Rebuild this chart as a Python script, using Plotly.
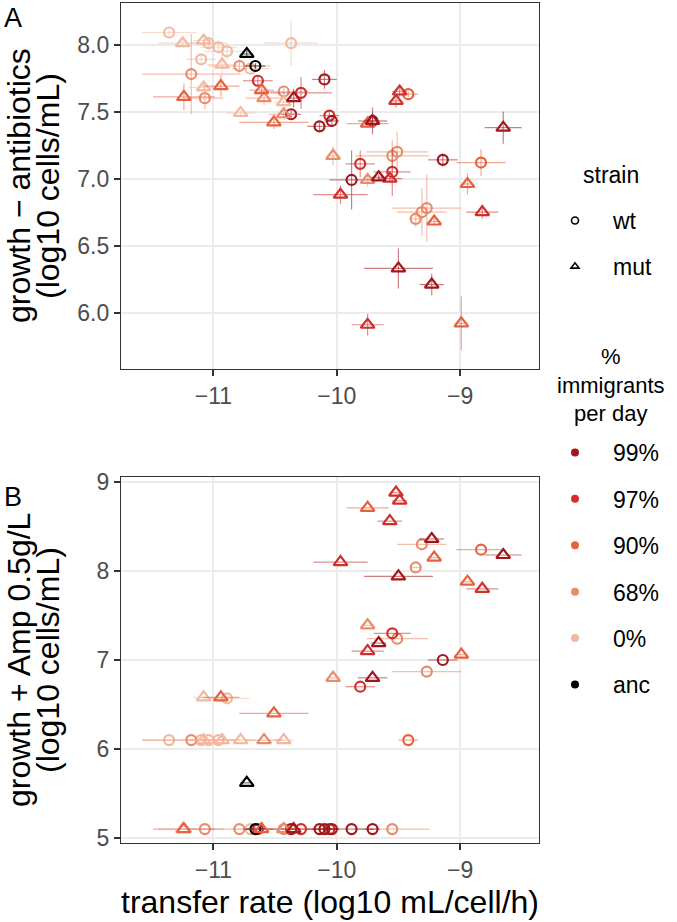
import plotly.graph_objects as go
from plotly.subplots import make_subplots

# ---------------- data ----------------
group_levels = ["99%", "97%", "90%", "68%", "0%", "anc"]
group_colors = ["#a3161d", "#d02f2c", "#e6623f", "#e98c6c", "#f2b9a1", "#000000"]

# wild type strains
wt_group = ["0%", "68%", "0%", "0%", "68%", "0%", "0%", "68%", "0%", "anc",
            "97%", "68%", "0%", "99%", "97%", "99%", "99%", "97%", "99%", "99%",
            "97%", "99%", "97%", "68%", "68%", "90%", "99%", "90%", "68%", "68%", "68%"]
wt_x = [-11.36, -11.18, -11.10, -11.04, -11.07, -10.96, -10.89, -10.79, -10.70, -10.66,
        -10.64, -10.43, -10.37, -10.37, -10.29, -10.14, -10.10, -10.06, -10.04, -9.88,
        -9.81, -9.71, -9.55, -9.55, -9.51, -9.42, -9.14, -8.83, -9.27, -9.31, -9.36]
wt_x_err = [0.22, 0.40, 0.12, 0.15, 0.15, 0.15, 0.18, 0.25, 0.15, 0.08,
            0.12, 0.20, 0.22, 0.08, 0.25, 0.10, 0.10, 0.08, 0.06, 0.18,
            0.12, 0.06, 0.15, 0.30, 0.25, 0.08, 0.12, 0.20, 0.28, 0.20, 0.05]
wt_growth_noab = [8.09, 7.78, 7.89, 8.01, 7.60, 7.98, 7.95, 7.84, 7.82, 7.84,
                  7.73, 7.65, 8.01, 7.48, 7.64, 7.39, 7.74, 7.47, 7.43, 6.99,
                  7.11, 7.43, 7.05, 7.17, 7.20, 7.63, 7.14, 7.12, 6.78, 6.75, 6.70]
wt_growth_noab_err = [0.02, 0.30, 0.03, 0.05, 0.08, 0.05, 0.06, 0.05, 0.03, 0.02,
                      0.04, 0.03, 0.17, 0.03, 0.12, 0.03, 0.07, 0.03, 0.03, 0.22,
                      0.10, 0.03, 0.18, 0.12, 0.15, 0.02, 0.05, 0.10, 0.25, 0.18, 0.06]
wt_growth_amp = [6.10, 6.10, 6.10, 6.10, 5.10, 6.10, 6.57, 5.10, 5.10, 5.10,
                 5.10, 5.10, 5.10, 5.10, 5.10, 5.10, 5.10, 5.10, 5.10, 5.10,
                 6.70, 5.10, 7.30, 5.10, 7.24, 6.10, 7.00, 8.24, 6.87, 8.30, 8.04]

# mutant strains
mut_group = ["0%", "0%", "0%", "0%", "90%", "90%", "anc", "0%", "90%", "68%",
             "0%", "68%", "99%", "90%", "68%", "97%", "99%", "90%", "97%", "97%",
             "97%", "68%", "99%", "99%", "90%", "90%", "97%", "99%", "99%", "97%", "90%"]
mut_x = [-11.25, -11.08, -11.08, -10.93, -10.94, -11.24, -10.73, -10.78, -10.61, -10.59,
         -10.43, -10.43, -10.35, -10.51, -10.03, -9.97, -9.71, -9.75, -9.52, -9.49,
         -9.57, -9.75, -9.66, -8.65, -8.94, -9.21, -8.82, -9.50, -9.23, -9.75, -8.99]
mut_x_err = [0.20, 0.08, 0.12, 0.12, 0.15, 0.25, 0.05, 0.12, 0.10, 0.15,
             0.08, 0.12, 0.05, 0.28, 0.05, 0.22, 0.12, 0.17, 0.05, 0.06,
             0.10, 0.05, 0.06, 0.15, 0.05, 0.05, 0.13, 0.28, 0.10, 0.13, 0.05]
mut_growth_noab = [8.01, 8.03, 7.68, 7.85, 7.69, 7.61, 7.93, 7.49, 7.66, 7.60,
                   7.57, 7.48, 7.60, 7.42, 7.17, 6.88, 7.43, 7.41, 7.58, 7.65,
                   7.00, 6.99, 7.01, 7.38, 6.96, 6.68, 6.75, 6.33, 6.21, 5.91, 5.92]
mut_growth_noab_err = [0.03, 0.05, 0.05, 0.08, 0.08, 0.10, 0.03, 0.02, 0.05, 0.05,
                       0.03, 0.04, 0.07, 0.05, 0.07, 0.07, 0.10, 0.03, 0.05, 0.04,
                       0.02, 0.05, 0.02, 0.12, 0.08, 0.03, 0.05, 0.15, 0.08, 0.08, 0.20]
mut_growth_amp = [5.10, 6.58, 6.10, 6.10, 6.58, 5.10, 5.62, 6.10, 5.10, 6.10,
                  6.10, 5.10, 5.10, 6.40, 6.80, 8.10, 6.80, 8.71, 8.88, 8.79,
                  8.56, 7.39, 7.19, 8.18, 7.88, 8.15, 7.80, 7.94, 8.36, 7.10, 7.06]

x_ticks = [-11, -10, -9]
yA_ticks = [6.0, 6.5, 7.0, 7.5, 8.0]
yB_ticks = [5, 6, 7, 8, 9]

strains = {
    "wt": dict(symbol="circle-open", size=10, group=wt_group, x=wt_x, xerr=wt_x_err,
               yA=wt_growth_noab, yAerr=wt_growth_noab_err, yB=wt_growth_amp),
    "mut": dict(symbol="triangle-up-open", size=12, group=mut_group, x=mut_x, xerr=mut_x_err,
                yA=mut_growth_noab, yAerr=mut_growth_noab_err, yB=mut_growth_amp),
}

color_of = dict(zip(group_levels, group_colors))
FONT = "Liberation Sans, Arial, Helvetica, sans-serif"


def rgba(hexc, a):
    h = hexc.lstrip("#")
    r, g, b = int(h[0:2], 16), int(h[2:4], 16), int(h[4:6], 16)
    return f"rgba({r},{g},{b},{a})"


fig = make_subplots(rows=2, cols=1, vertical_spacing=0.1286)

draw_order = ["0%", "68%", "90%", "97%", "99%", "anc"]
for panel, row in (("A", 1), ("B", 2)):
    for sname, s in strains.items():
        for g in draw_order:
            idx = [i for i, gg in enumerate(s["group"]) if gg == g]
            if not idx:
                continue
            col = color_of[g]
            xs = [s["x"][i] for i in idx]
            xe = [s["xerr"][i] for i in idx]
            if panel == "A":
                ys = [s["yA"][i] for i in idx]
                ey = dict(type="data", array=[s["yAerr"][i] for i in idx], visible=True,
                          color=rgba(col, 0.55), thickness=1.2, width=0)
            else:
                ys = [s["yB"][i] for i in idx]
                ey = dict(visible=False)
            fig.add_trace(go.Scatter(
                x=xs, y=ys, mode="markers", showlegend=False,
                marker=dict(symbol=s["symbol"], size=s["size"], color=col,
                            line=dict(width=2.2, color=col)),
                error_x=dict(type="data", array=xe, visible=True,
                             color=rgba(col, 0.55), thickness=1.2, width=0),
                error_y=ey,
            ), row=row, col=1)

# legend-only entries
for sname, sym in (("wt", "circle-open"), ("mut", "triangle-up-open")):
    fig.add_trace(go.Scatter(
        x=[None], y=[None], mode="markers", name=sname, legend="legend",
        legendgroup=sname, showlegend=True,
        marker=dict(symbol=sym, size=7, color="black", line=dict(width=1.6, color="black"))))
for g, c in zip(group_levels, group_colors):
    fig.add_trace(go.Scatter(
        x=[None], y=[None], mode="markers", name=g, legend="legend2",
        legendgroup="imm" + g, showlegend=True,
        marker=dict(symbol="circle", size=8, color=c)))

axis_common = dict(
    showgrid=True, gridcolor="#ebebeb", gridwidth=1.5, zeroline=False,
    showline=True, linecolor="#333333", linewidth=1.2, mirror=True,
    ticks="outside", ticklen=6, tickwidth=1.5, tickcolor="#333333", automargin=False,
    tickfont=dict(family=FONT, size=23, color="#4d4d4d"),
)
fig.update_xaxes(**axis_common, range=[-11.75, -8.36], tickvals=x_ticks)
fig.update_xaxes(title=dict(text="transfer rate (log10 mL/cell/h)",
                            font=dict(family=FONT, size=32, color="black"), standoff=8),
                 row=2, col=1)
fig.update_yaxes(**axis_common)
fig.update_yaxes(range=[5.58, 8.31], tickvals=yA_ticks, tickformat=".1f", row=1, col=1)
fig.update_yaxes(range=[4.944, 9.056], tickvals=yB_ticks, row=2, col=1)


def px_x(px):
    return (px - 121) / 418


def px_y(py):
    return (843 - py) / 840


ann = []
# rotated y-axis titles (two lines each, tight line spacing)
for text, cx, cy in (("growth − antibiotics", 19, 186), ("(log10 cells/mL)", 48, 186),
                     ("growth + Amp 0.5g/L", 19, 660), ("(log10 cells/mL)", 48, 660)):
    ann.append(dict(text=text, xref="paper", yref="paper", x=px_x(cx), y=px_y(cy),
                    xanchor="center", yanchor="middle", textangle=-90, showarrow=False,
                    font=dict(family=FONT, size=32, color="black")))
# legend titles
ann.append(dict(text="strain", xref="paper", yref="paper", x=px_x(611), y=px_y(175),
                xanchor="center", yanchor="middle", showarrow=False,
                font=dict(family=FONT, size=23, color="black")))
ann.append(dict(text="%<br>immigrants<br>per day", xref="paper", yref="paper",
                x=px_x(611), y=px_y(385), xanchor="center", yanchor="middle",
                align="center", showarrow=False,
                font=dict(family=FONT, size=22, color="black")))
# panel labels
for text, top in (("A", 1), ("B", 480)):
    ann.append(dict(text=text, xref="paper", yref="paper", x=px_x(13), y=px_y(top),
                    xanchor="center", yanchor="top", showarrow=False,
                    font=dict(family=FONT, size=27, color="black")))

# layout: plot areas at x 121..539, A: y 3..369, B: y 477..843
fig.update_layout(
    width=677, height=922,
    margin=dict(l=121, r=138, t=3, b=79, autoexpand=False),
    paper_bgcolor="white", plot_bgcolor="white",
    font=dict(family=FONT, size=23, color="black"),
    legend=dict(x=px_x(537), y=px_y(199), xanchor="left", yanchor="top",
                traceorder="grouped", tracegroupgap=13, itemwidth=66,
                font=dict(family=FONT, size=23), bgcolor="rgba(0,0,0,0)"),
    legend2=dict(x=px_x(537), y=px_y(431), xanchor="left", yanchor="top",
                 traceorder="grouped", tracegroupgap=13.5, itemwidth=66,
                 font=dict(family=FONT, size=23), bgcolor="rgba(0,0,0,0)"),
    annotations=ann,
)

fig.write_html("out.html", config={"displayModeBar": False},
               post_script="document.body.style.margin='0px';document.body.style.padding='0px';")
